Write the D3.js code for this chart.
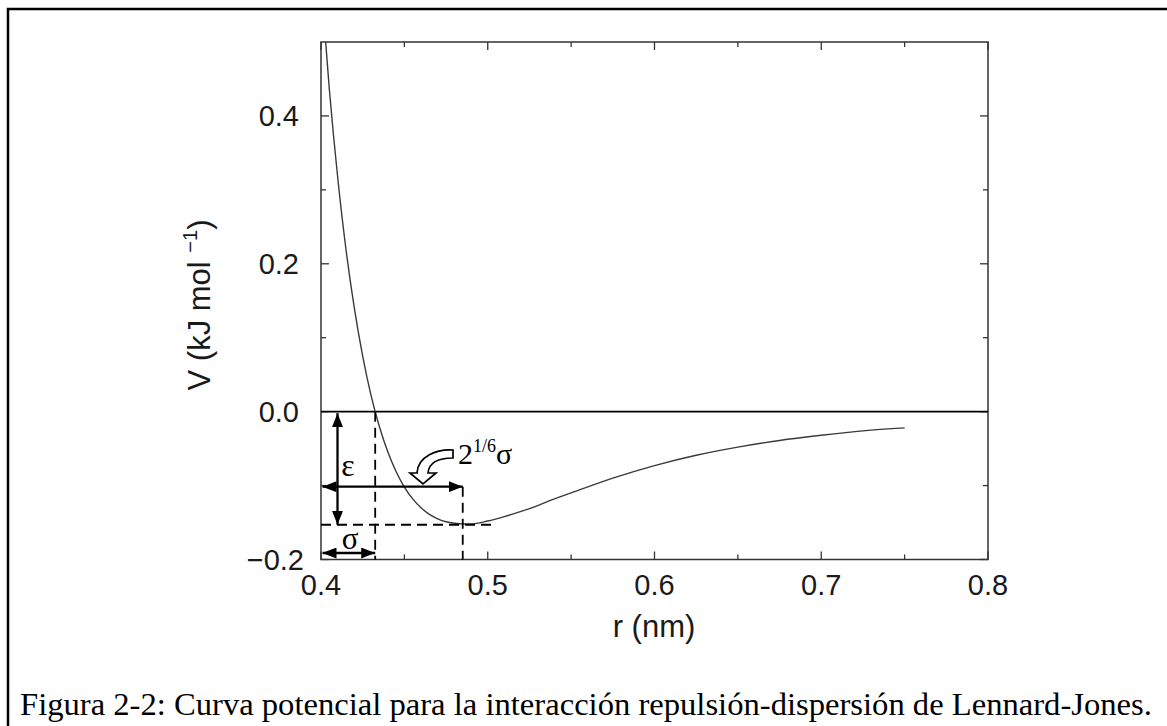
<!DOCTYPE html>
<html>
<head>
<meta charset="utf-8">
<script src="https://cdn.jsdelivr.net/npm/d3@7"></script>
<style>
  html, body { margin: 0; padding: 0; background: #fff; }
  svg { display: block; }
</style>
</head>
<body>
<script>
// Lennard-Jones curve, values
const rValues = [0.400, 0.405, 0.410, 0.415, 0.420, 0.425, 0.430, 0.435, 0.440, 0.445,
  0.450, 0.455, 0.460, 0.465, 0.470, 0.475, 0.480, 0.485, 0.490, 0.500,
  0.510, 0.520, 0.530, 0.540, 0.550, 0.575, 0.600, 0.625, 0.650, 0.675,
  0.700, 0.725, 0.750];
const vValues = [0.581, 0.436, 0.317, 0.219, 0.140, 0.075, 0.022, -0.020, -0.054, -0.081,
  -0.102, -0.118, -0.130, -0.139, -0.145, -0.149, -0.151, -0.152, -0.152, -0.148,
  -0.142, -0.135, -0.127, -0.118, -0.110, -0.090, -0.073, -0.059, -0.048, -0.039,
  -0.032, -0.026, -0.022];

const xTickLabels = [0.4, 0.5, 0.6, 0.7, 0.8];
const xMinorTicks = [0.45, 0.55, 0.65, 0.75];
const yTickLabels = [-0.2, 0.0, 0.2, 0.4];
const yMinorTicks = [-0.1, 0.1, 0.3];

// annotation values (nm / kJ mol-1)
const sigma = 0.4325;
const rMin = 0.485;
const epsilon = -0.153;
const arrowLevel = -0.1015;
const dashEnd = 0.5045;

const width = 1167, height = 726;
const plotLeft = 321, plotRight = 988, plotTop = 42, plotBottom = 559.5;

const svg = d3.select("body").append("svg")
  .attr("width", width)
  .attr("height", height);

// outer frame (runs off the right and bottom edges)
svg.append("rect")
  .attr("x", 8).attr("y", 9)
  .attr("width", 1300).attr("height", 900)
  .attr("fill", "none")
  .attr("stroke", "#000")
  .attr("stroke-width", 2.5);

const x = d3.scaleLinear().domain([0.4, 0.8]).range([plotLeft, plotRight]);
const y = d3.scaleLinear().domain([-0.2, 0.5]).range([plotBottom, plotTop]);

const ink = "#333";

// ticks on all four sides, pointing inward
function axisTicks(axis, majors, minors) {
  const g = svg.append("g").attr("class", "ticks");
  const all = majors.map(v => ({ v, len: 8 })).concat(minors.map(v => ({ v, len: 5 })));
  all.forEach(t => {
    if (axis === "x") {
      const px = x(t.v);
      g.append("line").attr("x1", px).attr("x2", px).attr("y1", plotBottom).attr("y2", plotBottom - t.len);
      g.append("line").attr("x1", px).attr("x2", px).attr("y1", plotTop).attr("y2", plotTop + t.len);
    } else {
      const py = y(t.v);
      g.append("line").attr("y1", py).attr("y2", py).attr("x1", plotLeft).attr("x2", plotLeft + t.len);
      g.append("line").attr("y1", py).attr("y2", py).attr("x1", plotRight).attr("x2", plotRight - t.len);
    }
  });
  g.selectAll("line").attr("stroke", ink).attr("stroke-width", 1.3);
}
axisTicks("x", xTickLabels, xMinorTicks);
axisTicks("y", yTickLabels, yMinorTicks);

// plot box
svg.append("rect")
  .attr("x", plotLeft).attr("y", plotTop)
  .attr("width", plotRight - plotLeft).attr("height", plotBottom - plotTop)
  .attr("fill", "none")
  .attr("stroke", ink)
  .attr("stroke-width", 1.5);

const fmt = d3.format(".1f");
const labelFont = "'Liberation Sans', Arial, sans-serif";
const textInk = "#1a1a1a";

svg.append("g").selectAll("text")
  .data(xTickLabels)
  .join("text")
  .attr("x", d => x(d))
  .attr("y", 595)
  .attr("text-anchor", "middle")
  .attr("font-family", labelFont)
  .attr("font-size", 29)
  .attr("fill", textInk)
  .text(d => fmt(d));

svg.append("g").selectAll("text")
  .data(yTickLabels)
  .join("text")
  .attr("x", d => d < 0 ? 304 : 299)
  .attr("y", d => y(d) + 10.5)
  .attr("text-anchor", "end")
  .attr("font-family", labelFont)
  .attr("font-size", 29)
  .attr("fill", textInk)
  .text(d => fmt(d).replace("-", "\u2212"));

// axis titles
svg.append("text")
  .attr("x", 654).attr("y", 637)
  .attr("text-anchor", "middle")
  .attr("font-family", labelFont)
  .attr("font-size", 31)
  .attr("fill", textInk)
  .text("r (nm)");

const yTitle = svg.append("text")
  .attr("transform", "translate(210,305) rotate(-90)")
  .attr("text-anchor", "middle")
  .attr("font-family", labelFont)
  .attr("font-size", 31)
  .attr("fill", textInk);
yTitle.append("tspan").text("V (kJ mol ");
yTitle.append("tspan").attr("dy", -13).attr("font-size", 20).text("\u22121");
yTitle.append("tspan").attr("dy", 13).text(")");

// clip for the curve
svg.append("clipPath").attr("id", "plot-clip")
  .append("rect")
  .attr("x", plotLeft).attr("y", plotTop)
  .attr("width", plotRight - plotLeft).attr("height", plotBottom - plotTop);

// zero line
svg.append("line")
  .attr("x1", x(0.4)).attr("x2", x(0.8))
  .attr("y1", y(0)).attr("y2", y(0))
  .attr("stroke", "#000")
  .attr("stroke-width", 1.6);

const points = rValues.map((r, i) => [r, vValues[i]]);
const line = d3.line()
  .x(d => x(d[0]))
  .y(d => y(d[1]))
  .curve(d3.curveMonotoneX);

svg.append("path")
  .datum(points)
  .attr("clip-path", "url(#plot-clip)")
  .attr("d", line)
  .attr("fill", "none")
  .attr("stroke", "#3a3a3a")
  .attr("stroke-width", 1.4);

// dashed guide lines
const dash = svg.append("g")
  .attr("stroke", "#000")
  .attr("stroke-width", 1.8)
  .attr("stroke-dasharray", "10,6")
  .attr("fill", "none");
dash.append("line")
  .attr("x1", x(sigma)).attr("x2", x(sigma))
  .attr("y1", y(0)).attr("y2", plotBottom);
dash.append("line")
  .attr("x1", x(rMin)).attr("x2", x(rMin))
  .attr("y1", y(arrowLevel)).attr("y2", plotBottom);
dash.append("line")
  .attr("x1", x(0.4)).attr("x2", x(dashEnd))
  .attr("y1", y(epsilon)).attr("y2", y(epsilon));

// double-headed arrows
svg.append("defs").append("marker")
  .attr("id", "head")
  .attr("viewBox", "0 0 14 11")
  .attr("refX", 14).attr("refY", 5.5)
  .attr("markerWidth", 14).attr("markerHeight", 11)
  .attr("markerUnits", "userSpaceOnUse")
  .attr("orient", "auto-start-reverse")
  .append("path")
  .attr("d", "M0,0 L14,5.5 L0,11 Z")
  .attr("fill", "#000");

function dblArrow(x1, y1, x2, y2) {
  svg.append("line")
    .attr("x1", x1).attr("y1", y1).attr("x2", x2).attr("y2", y2)
    .attr("stroke", "#000")
    .attr("stroke-width", 2.3)
    .attr("marker-start", "url(#head)")
    .attr("marker-end", "url(#head)");
}
const epsX = 337.5;
dblArrow(epsX, y(0) + 1.5, epsX, y(epsilon));
dblArrow(x(0.4) + 1.5, y(arrowLevel), x(rMin), y(arrowLevel));
dblArrow(x(0.4) + 1.5, 553, x(sigma), 553);

// symbol labels
const serif = "'Liberation Serif', 'Times New Roman', serif";
svg.append("text")
  .attr("x", 348).attr("y", 476)
  .attr("text-anchor", "middle")
  .attr("font-family", serif)
  .attr("font-size", 32)
  .text("\u03b5");
svg.append("text")
  .attr("x", 350).attr("y", 549)
  .attr("text-anchor", "middle")
  .attr("font-family", serif)
  .attr("font-size", 31)
  .text("\u03c3");

const rmLabel = svg.append("text")
  .attr("x", 458).attr("y", 464)
  .attr("font-family", serif)
  .attr("font-size", 30);
rmLabel.append("tspan").text("2");
rmLabel.append("tspan").attr("dy", -12).attr("font-size", 18).text("1/6");
rmLabel.append("tspan").attr("dy", 12).text("\u03c3");

// curved hollow pointer arrow
svg.append("path")
  .attr("d", "M453,450 C437,449 418,456 417,473 L410,473 L423,484 L436,473 L428,473 C429,462 440,458 453,458 Z")
  .attr("fill", "#fff")
  .attr("stroke", "#000")
  .attr("stroke-width", 1.7)
  .attr("stroke-linejoin", "miter");

// caption, sized to span the same width as the original
const caption = svg.append("text")
  .attr("x", 20).attr("y", 715)
  .attr("font-family", serif)
  .attr("font-size", 28)
  .attr("fill", "#000")
  .text("Figura 2-2: Curva potencial para la interacción repulsión-dispersión de Lennard-Jones.");
const w = caption.node().getComputedTextLength();
caption.attr("font-size", 28 * 1132 / w);
</script>
</body>
</html>
